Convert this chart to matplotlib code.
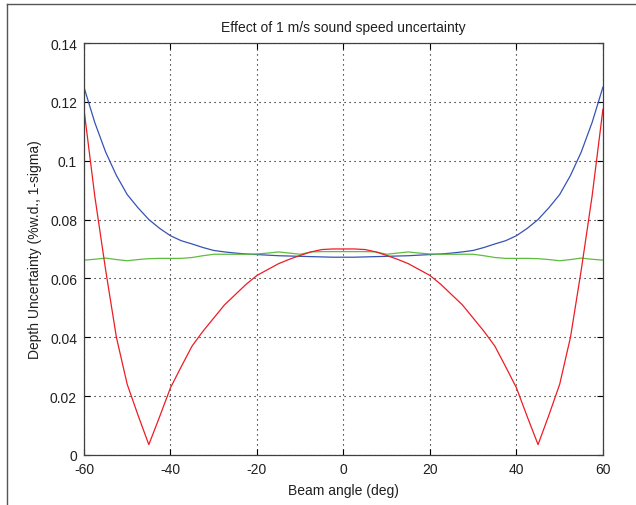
import matplotlib
matplotlib.use("Agg")
import matplotlib.pyplot as plt
from matplotlib.lines import Line2D

# beam angles (deg) the curves were read at
angles = [-60, -57.5, -55, -52.5, -50, -47.5, -45, -42.5, -40, -37.5, -35, -32.5,
          -30, -27.5, -25, -22.5, -20, -17.5, -15, -12.5, -10, -7.5, -5, -2.5,
          0, 2.5, 5, 7.5, 10, 12.5, 15, 17.5, 20, 22.5, 25, 27.5, 30, 32.5,
          35, 37.5, 40, 42.5, 45, 47.5, 50, 52.5, 55, 57.5, 60]

blue = [0.1250, 0.1130, 0.1030, 0.0950, 0.0885, 0.0840, 0.0800, 0.0770, 0.0745,
        0.0728, 0.0717, 0.0705, 0.0695, 0.0690, 0.0686, 0.0683, 0.0681, 0.0679,
        0.0677, 0.0676, 0.0675, 0.0674, 0.0673, 0.0672, 0.0672, 0.0672, 0.0673,
        0.0674, 0.0675, 0.0676, 0.0677, 0.0679, 0.0681, 0.0683, 0.0686, 0.0690,
        0.0695, 0.0705, 0.0717, 0.0728, 0.0745, 0.0770, 0.0800, 0.0840, 0.0885,
        0.0950, 0.1030, 0.1130, 0.1250]

green = [0.0662, 0.0665, 0.0669, 0.0664, 0.0660, 0.0664, 0.0667, 0.0668, 0.0668,
         0.0668, 0.0671, 0.0677, 0.0682, 0.0682, 0.0682, 0.0682, 0.0683, 0.0686,
         0.0690, 0.0686, 0.0682, 0.0690, 0.0691, 0.0691, 0.0691, 0.0691, 0.0691,
         0.0690, 0.0682, 0.0686, 0.0690, 0.0686, 0.0683, 0.0682, 0.0682, 0.0682,
         0.0682, 0.0677, 0.0671, 0.0668, 0.0668, 0.0668, 0.0667, 0.0664, 0.0660,
         0.0664, 0.0669, 0.0665, 0.0662]

red = [0.1175, 0.0880, 0.0630, 0.0400, 0.0240, 0.0135, 0.0035, 0.0130, 0.0228,
       0.0300, 0.0370, 0.0420, 0.0465, 0.0510, 0.0545, 0.0580, 0.0610, 0.0630,
       0.0650, 0.0665, 0.0678, 0.0690, 0.0698, 0.0700, 0.0700, 0.0700, 0.0698,
       0.0690, 0.0678, 0.0665, 0.0650, 0.0630, 0.0610, 0.0580, 0.0545, 0.0510,
       0.0465, 0.0420, 0.0370, 0.0300, 0.0228, 0.0130, 0.0035, 0.0135, 0.0240,
       0.0400, 0.0630, 0.0880, 0.1175]

xticks = [-60, -40, -20, 0, 20, 40, 60]
yticks = [0, 0.02, 0.04, 0.06, 0.08, 0.1, 0.12, 0.14]
ytick_labels = ['0', '0.02', '0.04', '0.06', '0.08', '0.1', '0.12', '0.14']

plt.rcParams['font.family'] = ['Liberation Sans', 'DejaVu Sans']
plt.rcParams['font.size'] = 10

fig = plt.figure(figsize=(6.36, 5.06), dpi=100)
ax = fig.add_axes([0.132, 0.099, 0.816, 0.814])

ax.plot(angles, blue, color='#3553b5', lw=0.9)
ax.plot(angles, green, color='#5ebd3e', lw=0.9)
ax.plot(angles, red, color='#ee1c24', lw=0.9)

ax.set_xlim(-60, 60)
ax.set_ylim(0, 0.14)
ax.set_xticks(xticks)
ax.set_xticklabels([str(t) for t in xticks])
ax.set_yticks(yticks)
ax.set_yticklabels(ytick_labels)
ax.tick_params(direction='in', top=True, right=True, length=4, width=0.8,
               labelcolor='#202020')
ax.tick_params(axis='x', pad=5)
ax.tick_params(axis='y', pad=5)
ax.grid(True, color='black', linestyle=(0, (1, 3.5)), linewidth=0.8)
for s in ax.spines.values():
    s.set_color('#404040')
    s.set_linewidth(0.9)

ax.set_title('Effect of 1 m/s sound speed uncertainty', fontsize=10, pad=9,
             color='#202020')
ax.set_xlabel('Beam angle (deg)', labelpad=5, color='#202020')
ax.set_ylabel('Depth Uncertainty (%w.d., 1-sigma)', labelpad=6, color='#202020')

# window frame on the left and top of the screenshot
fig.add_artist(Line2D([7 / 636, 7 / 636], [0, 1 - 5 / 506], color='#555555', lw=1))
fig.add_artist(Line2D([7 / 636, 1], [1 - 5 / 506, 1 - 5 / 506], color='#555555', lw=1))

fig.savefig('out.png', dpi=100)
